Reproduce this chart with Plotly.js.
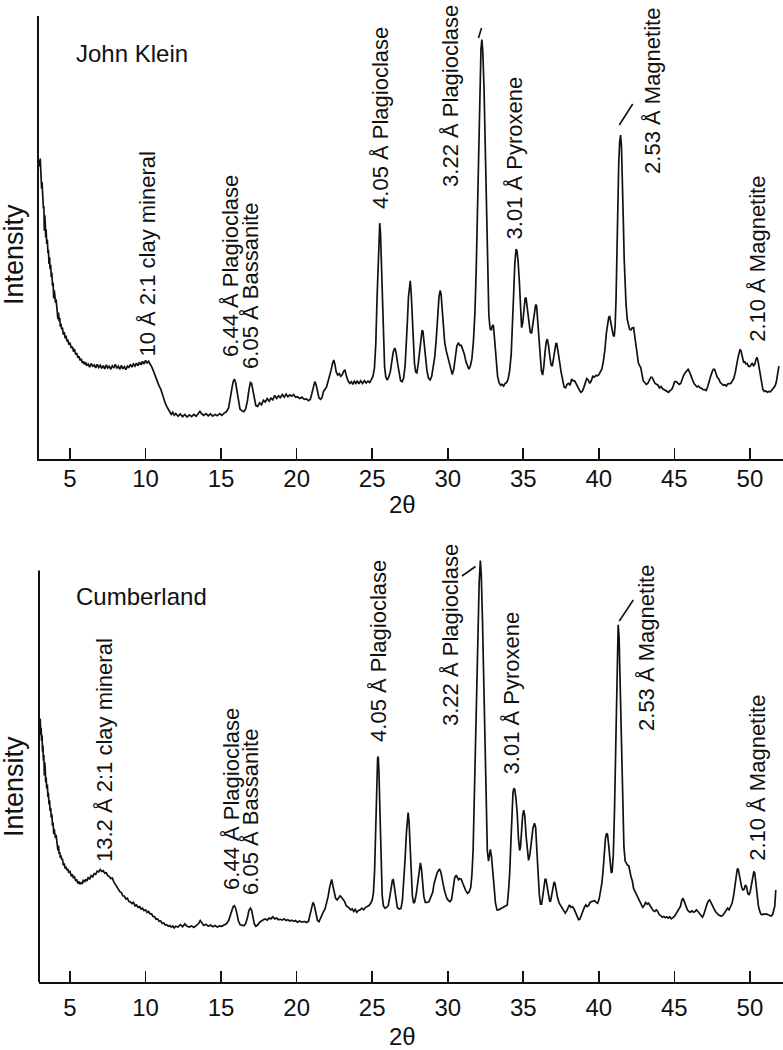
<!DOCTYPE html>
<html>
<head>
<meta charset="utf-8">
<script src="https://cdn.plot.ly/plotly-3.0.1.min.js"></script>
<style>
html,body{margin:0;padding:0;background:#fff;}
#chart{width:783px;height:1050px;}
</style>
</head>
<body>
<div id="chart"></div>
<script>
// ---------------- DATA ----------------
var tickVals = [5, 10, 15, 20, 25, 30, 35, 40, 45, 50];
var tickText = ["5", "10", "15", "20", "25", "30", "35", "40", "45", "50"];

// John Klein: 2θ (degrees) and intensity (arbitrary units)
var jkTheta = [2.97,3.00,3.03,3.06,3.09,3.12,3.15,3.18,3.21,3.24,3.27,3.30,3.33,3.36,3.39,3.42,3.46,3.50,3.54,3.57,3.61,3.65,3.68,3.72,3.76,3.80,3.84,3.88,3.92,3.96,4.00,4.04,4.08,4.12,4.16,4.20,4.24,4.28,4.32,4.36,4.40,4.45,4.50,4.56,4.62,4.68,4.74,4.80,4.86,4.92,5.00,5.08,5.16,5.22,5.30,5.38,5.44,5.52,5.60,5.66,5.74,5.82,5.88,5.96,6.04,6.10,6.20,6.30,6.40,6.50,6.60,6.70,6.80,6.90,7.00,7.10,7.20,7.30,7.40,7.50,7.60,7.70,7.80,7.90,8.00,8.10,8.20,8.30,8.40,8.50,8.60,8.70,8.80,8.90,9.00,9.10,9.20,9.30,9.40,9.50,9.60,9.70,9.80,9.90,10.00,10.10,10.20,10.30,10.40,10.50,10.60,10.70,10.80,10.90,11.00,11.10,11.20,11.30,11.40,11.50,11.60,11.70,11.80,11.90,12.00,12.15,12.30,12.45,12.60,12.75,12.90,13.05,13.20,13.35,13.50,13.60,13.70,13.85,14.00,14.15,14.30,14.45,14.60,14.75,14.90,15.05,15.20,15.35,15.50,15.62,15.72,15.80,15.88,15.96,16.04,16.14,16.25,16.38,16.50,16.62,16.74,16.84,16.94,17.02,17.10,17.20,17.30,17.42,17.55,17.68,17.80,17.92,18.05,18.18,18.30,18.42,18.55,18.68,18.80,18.92,19.05,19.18,19.30,19.42,19.55,19.68,19.80,19.92,20.05,20.20,20.35,20.50,20.65,20.78,20.90,21.00,21.10,21.20,21.28,21.38,21.48,21.58,21.68,21.78,21.88,21.98,22.08,22.18,22.28,22.38,22.46,22.54,22.62,22.72,22.82,22.92,23.02,23.12,23.20,23.30,23.40,23.52,23.62,23.72,23.82,23.92,24.02,24.12,24.24,24.36,24.48,24.60,24.72,24.84,24.95,25.05,25.15,25.24,25.32,25.40,25.46,25.50,25.55,25.61,25.68,25.75,25.82,25.90,25.98,26.08,26.20,26.30,26.40,26.50,26.58,26.68,26.78,26.88,26.98,27.08,27.18,27.26,27.33,27.40,27.47,27.52,27.58,27.65,27.72,27.80,27.88,27.96,28.05,28.14,28.22,28.30,28.36,28.44,28.52,28.62,28.72,28.84,28.94,29.04,29.14,29.24,29.34,29.42,29.50,29.56,29.64,29.72,29.80,29.90,30.00,30.10,30.20,30.30,30.40,30.50,30.60,30.70,30.80,30.90,31.00,31.10,31.20,31.30,31.40,31.50,31.60,31.70,31.80,31.88,31.96,32.04,32.12,32.20,32.26,32.32,32.40,32.48,32.56,32.64,32.72,32.80,32.88,32.95,33.02,33.10,33.20,33.30,33.40,33.50,33.60,33.70,33.80,33.90,34.00,34.10,34.20,34.28,34.36,34.44,34.52,34.58,34.66,34.74,34.82,34.89,34.96,35.04,35.12,35.18,35.26,35.36,35.46,35.55,35.64,35.74,35.82,35.88,35.96,36.04,36.12,36.20,36.28,36.36,36.44,36.52,36.59,36.67,36.76,36.84,36.92,37.00,37.08,37.16,37.22,37.30,37.40,37.50,37.60,37.70,37.80,37.90,38.00,38.10,38.20,38.30,38.40,38.50,38.60,38.70,38.80,38.90,39.00,39.10,39.20,39.30,39.40,39.50,39.60,39.70,39.80,39.90,40.00,40.10,40.20,40.30,40.40,40.50,40.58,40.66,40.72,40.80,40.88,40.96,41.02,41.08,41.14,41.20,41.26,41.32,41.38,41.44,41.50,41.56,41.62,41.68,41.74,41.80,41.88,41.96,42.04,42.12,42.20,42.30,42.38,42.46,42.54,42.62,42.70,42.78,42.86,42.94,43.04,43.14,43.24,43.34,43.44,43.52,43.62,43.72,43.82,43.92,44.02,44.12,44.22,44.32,44.42,44.52,44.62,44.72,44.82,44.92,45.02,45.12,45.22,45.32,45.42,45.52,45.62,45.72,45.82,45.91,46.00,46.10,46.20,46.30,46.40,46.50,46.60,46.70,46.80,46.90,47.00,47.10,47.20,47.30,47.40,47.50,47.58,47.66,47.74,47.84,47.94,48.04,48.14,48.24,48.34,48.44,48.54,48.64,48.74,48.84,48.94,49.04,49.12,49.20,49.28,49.36,49.42,49.50,49.58,49.66,49.74,49.82,49.90,50.00,50.08,50.16,50.24,50.32,50.40,50.47,50.54,50.62,50.70,50.78,50.86,50.96,51.06,51.16,51.26,51.36,51.46,51.56,51.66,51.74,51.80,51.86,51.92];
var jkIntensity = [67.5,66.0,67.8,63.5,65.0,61.0,62.5,58.0,59.5,56.5,57.0,51.5,55.0,53.5,50.0,51.8,48.5,49.5,46.5,47.2,44.0,45.5,42.8,43.8,41.0,42.0,39.0,39.8,36.2,38.0,36.8,35.2,36.0,34.5,34.8,31.5,33.0,31.0,31.8,29.8,30.5,29.2,29.6,28.0,28.6,27.2,27.8,26.5,26.9,25.8,26.2,25.0,25.3,24.4,24.6,23.5,23.9,22.8,23.1,22.2,22.6,21.6,22.0,21.3,21.8,21.0,21.4,20.7,21.5,20.9,21.2,20.5,21.3,20.6,21.1,20.4,21.0,20.3,21.2,20.5,20.9,20.2,21.0,20.6,21.3,20.4,20.9,20.2,21.1,20.3,20.8,20.1,20.9,20.6,21.3,20.7,21.4,20.9,21.6,21.0,21.8,21.2,22.0,21.4,22.2,21.6,22.0,21.5,20.8,20.0,19.0,18.2,17.5,16.4,15.8,14.6,13.8,12.6,11.8,11.0,10.6,10.0,10.5,9.8,10.2,9.6,10.1,9.5,10.0,9.4,9.9,9.5,10.0,9.6,10.3,10.7,10.2,9.8,10.2,9.7,10.1,9.6,10.0,9.7,10.2,9.8,10.3,10.6,11.5,13.5,16.0,17.4,18.0,17.2,15.2,12.8,11.2,10.8,10.6,11.2,13.0,15.5,17.2,17.0,15.4,13.2,12.0,11.8,12.6,12.2,13.2,12.8,13.6,13.0,13.7,13.3,14.3,13.6,14.2,13.8,14.5,13.9,14.6,14.0,14.4,14.1,14.5,13.9,14.0,13.6,13.9,13.4,13.5,13.1,13.4,14.6,16.3,17.4,16.8,14.8,13.7,13.4,13.8,15.2,15.6,16.2,17.5,18.6,20.0,21.6,22.3,21.2,19.6,18.9,19.2,18.6,19.0,19.8,20.0,18.6,17.6,17.0,17.4,16.8,17.5,17.0,17.6,16.9,17.6,17.0,17.6,17.1,17.5,17.2,17.8,18.6,20.5,26.0,36.0,46.0,52.0,53.2,51.0,44.0,34.5,26.0,20.8,18.5,17.8,18.3,19.6,22.0,24.2,25.0,24.0,21.6,19.0,17.6,17.4,18.2,21.0,25.2,31.0,36.5,40.0,40.2,37.5,32.0,26.0,21.5,19.6,19.4,21.5,24.2,27.0,29.0,28.8,26.0,23.4,20.0,18.2,17.8,18.6,20.4,23.0,27.0,32.5,36.5,38.0,37.2,33.5,29.0,26.2,24.4,23.0,21.8,20.0,19.0,20.2,23.0,25.4,26.2,25.6,25.6,24.8,23.6,22.0,20.8,20.2,21.0,22.6,26.5,33.0,42.0,56.0,72.0,85.0,92.5,94.7,92.0,84.0,70.0,54.0,40.0,32.5,29.4,29.0,30.0,30.2,27.0,22.0,18.6,17.2,16.6,16.8,16.4,17.0,17.2,18.0,20.0,23.5,29.0,37.0,44.0,47.3,47.0,44.5,40.0,33.0,29.6,30.6,33.8,36.2,36.4,34.0,30.5,28.6,28.3,30.5,33.5,34.8,34.6,31.0,26.0,22.0,19.8,18.9,20.8,24.0,26.4,27.0,25.6,23.0,21.2,20.9,23.0,25.0,26.0,26.0,24.6,22.0,19.6,17.4,16.2,16.0,16.8,17.0,16.6,18.0,17.6,17.6,16.9,16.0,15.6,15.0,15.2,16.0,17.2,18.1,17.8,17.0,17.6,18.6,18.4,18.8,18.7,19.0,19.6,20.2,22.0,24.5,28.4,30.6,32.0,32.1,30.5,28.6,27.8,27.6,30.0,36.0,48.0,58.4,67.0,71.5,73.1,70.5,64.0,54.0,45.0,38.5,35.0,31.5,29.9,29.2,29.1,29.5,29.6,27.6,24.5,22.6,21.6,21.0,20.6,19.0,17.6,17.2,16.8,17.0,17.8,18.4,18.4,17.6,17.0,16.8,16.6,16.0,16.3,15.8,15.6,15.3,15.1,15.0,15.4,15.6,16.4,17.4,17.4,17.0,16.8,17.0,18.0,18.9,19.4,20.0,20.2,19.6,18.6,17.8,17.0,16.6,16.2,16.4,16.0,15.9,15.6,15.6,15.4,16.2,17.6,18.6,19.6,20.2,20.2,19.4,18.4,18.0,17.2,16.9,16.6,16.7,16.4,16.9,17.0,17.0,17.6,18.2,19.6,21.4,22.6,23.8,24.7,24.2,22.6,21.8,21.9,21.4,21.5,20.9,20.8,21.2,21.6,21.0,21.3,22.4,22.9,22.0,20.2,18.4,16.4,15.6,15.2,15.3,15.0,15.2,15.1,15.6,16.0,16.4,17.2,18.6,20.4,20.9];

// Cumberland: 2θ (degrees) and intensity (arbitrary units)
var cbTheta = [2.97,3.00,3.03,3.06,3.09,3.12,3.15,3.18,3.21,3.24,3.27,3.30,3.33,3.36,3.39,3.42,3.46,3.50,3.54,3.57,3.61,3.65,3.68,3.72,3.76,3.80,3.84,3.88,3.92,3.96,4.00,4.04,4.08,4.12,4.16,4.20,4.24,4.28,4.32,4.36,4.40,4.45,4.50,4.56,4.62,4.68,4.74,4.80,4.86,4.92,5.00,5.08,5.16,5.22,5.30,5.38,5.44,5.52,5.60,5.66,5.74,5.82,5.88,5.96,6.04,6.12,6.20,6.30,6.40,6.50,6.60,6.70,6.80,6.90,7.00,7.10,7.20,7.30,7.40,7.50,7.60,7.70,7.80,7.90,8.00,8.10,8.20,8.30,8.40,8.50,8.60,8.70,8.80,8.90,9.00,9.10,9.20,9.30,9.40,9.50,9.60,9.70,9.80,9.90,10.00,10.10,10.20,10.30,10.40,10.50,10.60,10.70,10.80,10.90,11.00,11.10,11.20,11.30,11.40,11.50,11.60,11.70,11.80,11.90,12.00,12.15,12.30,12.45,12.60,12.75,12.90,13.05,13.20,13.35,13.50,13.62,13.72,13.85,14.00,14.15,14.30,14.45,14.60,14.75,14.90,15.05,15.20,15.35,15.50,15.62,15.72,15.80,15.88,15.96,16.04,16.14,16.25,16.38,16.50,16.62,16.74,16.84,16.94,17.02,17.10,17.20,17.30,17.42,17.55,17.68,17.80,17.92,18.05,18.18,18.30,18.42,18.55,18.68,18.80,18.92,19.05,19.18,19.30,19.42,19.55,19.68,19.80,19.92,20.05,20.20,20.35,20.50,20.65,20.78,20.90,21.00,21.08,21.16,21.26,21.38,21.48,21.58,21.68,21.78,21.88,21.98,22.08,22.18,22.26,22.32,22.40,22.48,22.58,22.68,22.78,22.88,22.98,23.08,23.18,23.28,23.38,23.48,23.58,23.68,23.78,23.88,23.98,24.08,24.20,24.32,24.44,24.56,24.68,24.80,24.90,25.00,25.08,25.16,25.24,25.30,25.36,25.40,25.45,25.51,25.58,25.66,25.74,25.84,25.96,26.06,26.16,26.26,26.34,26.40,26.48,26.56,26.66,26.78,26.90,27.00,27.10,27.18,27.26,27.33,27.38,27.44,27.51,27.58,27.66,27.74,27.82,27.92,28.02,28.12,28.19,28.26,28.34,28.42,28.52,28.64,28.76,28.88,29.00,29.10,29.20,29.30,29.40,29.46,29.54,29.62,29.72,29.82,29.94,30.06,30.16,30.26,30.36,30.46,30.56,30.64,30.72,30.80,30.90,31.00,31.10,31.20,31.32,31.42,31.52,31.60,31.68,31.76,31.84,31.92,32.00,32.08,32.16,32.22,32.30,32.38,32.46,32.54,32.62,32.70,32.76,32.82,32.90,32.98,33.06,33.16,33.26,33.37,33.48,33.60,33.72,33.84,33.94,34.02,34.10,34.18,34.25,34.32,34.38,34.44,34.52,34.60,34.68,34.76,34.82,34.90,34.96,35.03,35.10,35.20,35.28,35.35,35.44,35.54,35.64,35.74,35.82,35.90,35.98,36.06,36.14,36.21,36.28,36.36,36.44,36.50,36.58,36.66,36.74,36.80,36.88,36.96,37.04,37.10,37.18,37.28,37.38,37.48,37.58,37.68,37.78,37.88,37.98,38.06,38.16,38.26,38.36,38.46,38.56,38.66,38.74,38.84,38.94,39.04,39.14,39.22,39.32,39.42,39.52,39.62,39.72,39.82,39.92,40.02,40.10,40.20,40.28,40.36,40.44,40.52,40.58,40.66,40.74,40.82,40.88,40.96,41.04,41.10,41.16,41.22,41.28,41.34,41.40,41.46,41.52,41.58,41.66,41.74,41.82,41.90,41.98,42.06,42.14,42.22,42.30,42.40,42.50,42.60,42.70,42.80,42.90,43.00,43.10,43.20,43.30,43.40,43.50,43.60,43.70,43.80,43.90,44.00,44.10,44.20,44.30,44.40,44.50,44.60,44.70,44.80,44.90,45.00,45.10,45.20,45.30,45.40,45.50,45.58,45.66,45.76,45.86,45.96,46.06,46.16,46.26,46.36,46.46,46.56,46.66,46.76,46.86,46.96,47.06,47.16,47.26,47.34,47.42,47.52,47.62,47.72,47.82,47.92,48.02,48.12,48.22,48.32,48.42,48.52,48.62,48.72,48.82,48.92,49.02,49.10,49.16,49.22,49.30,49.38,49.46,49.54,49.62,49.70,49.78,49.86,49.94,50.02,50.10,50.18,50.26,50.32,50.40,50.48,50.56,50.64,50.72,50.80,50.90,51.00,51.10,51.20,51.30,51.40,51.50,51.58,51.64,51.68,51.71];
var cbIntensity = [64.1,62.4,64.0,60.0,61.8,58.6,60.0,56.0,57.5,53.8,55.2,50.2,53.4,52.0,48.6,49.8,47.0,48.0,45.0,46.0,43.2,44.2,41.6,42.4,40.0,40.8,38.0,38.8,36.0,37.2,36.0,35.0,35.8,34.6,34.4,32.0,33.2,31.2,31.6,30.2,30.8,29.8,30.0,28.4,28.9,27.6,28.1,27.2,27.5,26.6,26.9,25.9,26.2,25.4,25.6,24.6,25.0,24.0,24.5,23.8,24.2,24.0,24.9,24.3,25.0,24.6,25.4,25.1,25.9,25.6,26.4,26.2,27.0,26.8,27.4,26.9,27.1,26.5,26.6,25.9,25.7,25.2,25.3,24.4,23.8,23.2,22.9,22.0,21.8,21.0,20.9,20.2,20.4,19.6,19.5,19.1,19.4,18.6,18.8,18.2,18.4,17.8,18.0,17.4,17.6,17.0,17.2,16.6,16.6,16.0,15.9,15.3,15.4,14.8,14.9,14.3,14.4,13.9,14.0,13.6,13.8,13.4,13.7,13.2,13.6,13.4,14.0,13.5,14.2,13.6,13.4,13.7,13.3,13.8,14.2,15.0,14.4,13.8,14.1,13.6,13.9,13.5,13.8,13.4,13.7,13.6,13.9,14.2,15.0,16.5,18.0,18.4,18.6,18.0,16.8,15.0,14.0,13.8,13.7,14.2,15.6,17.4,18.0,17.5,15.6,14.2,13.6,13.9,14.6,15.0,15.2,15.4,15.1,15.6,15.4,15.9,15.4,15.6,15.2,15.3,15.1,15.4,15.0,15.2,14.9,15.1,14.8,15.0,14.6,14.9,14.6,14.8,14.5,14.8,16.5,18.2,19.4,18.8,17.0,15.0,14.7,15.6,16.6,17.2,17.8,19.0,20.8,23.0,24.6,25.0,23.4,21.6,20.4,20.0,20.6,21.0,20.6,20.0,19.6,18.6,18.4,18.0,17.6,17.8,17.2,17.7,17.0,17.4,17.6,18.0,17.6,18.2,18.4,18.7,19.2,20.0,21.6,27.0,38.0,48.0,54.5,54.8,51.0,42.0,31.0,21.2,18.6,18.0,18.2,18.6,20.6,23.6,24.8,24.9,23.0,20.2,18.2,17.8,17.9,19.8,24.6,30.0,36.0,40.4,41.2,39.0,33.8,26.8,21.0,19.2,19.6,21.5,24.6,27.2,29.0,27.6,24.0,20.8,19.4,19.4,19.6,20.8,21.8,24.0,25.6,26.6,27.2,27.5,26.8,25.6,23.4,21.8,20.4,19.8,19.6,20.2,23.0,25.4,26.0,25.6,24.9,25.2,25.0,24.0,23.0,22.2,21.6,22.0,23.0,26.0,32.0,45.0,60.0,76.0,88.0,97.0,102.4,99.0,88.0,73.0,57.0,41.0,32.0,29.4,30.6,32.3,30.4,27.6,23.6,19.2,17.6,17.6,17.8,18.0,18.2,18.6,18.8,22.0,26.4,34.0,42.0,46.2,47.1,46.8,44.5,41.0,35.0,32.0,33.0,38.0,40.6,41.8,40.4,35.0,31.0,29.6,31.0,34.0,37.4,38.6,37.6,32.0,25.5,21.4,19.0,19.0,20.6,23.0,25.0,25.0,23.2,21.4,19.8,19.6,21.6,23.6,24.4,24.0,22.0,20.4,19.2,18.6,18.2,17.4,16.8,17.4,18.4,18.8,18.2,18.4,17.8,17.0,16.2,15.2,15.3,16.4,17.4,18.2,18.8,18.4,18.6,19.4,19.6,19.8,19.8,19.4,19.2,20.2,21.6,24.0,27.0,31.0,35.0,36.2,35.8,33.0,28.4,26.6,26.8,31.0,42.0,55.0,68.0,80.0,86.8,84.0,75.0,62.0,50.0,40.5,33.0,29.5,28.8,28.4,28.3,26.6,25.5,24.6,22.8,22.0,21.2,20.2,19.5,18.6,18.2,18.6,19.4,19.0,19.2,18.6,17.8,17.4,17.2,17.6,17.2,16.4,16.2,15.8,16.0,15.7,15.9,15.6,15.9,15.4,15.7,16.0,16.6,17.2,17.6,18.4,20.0,20.4,19.6,18.4,17.6,17.2,17.0,17.4,17.0,17.2,17.6,17.2,16.8,16.4,15.8,16.6,18.0,19.0,19.8,20.0,19.4,18.4,17.9,17.2,16.7,16.4,16.2,16.1,16.3,16.9,17.6,18.0,17.6,18.6,19.2,21.0,24.0,26.2,27.4,27.6,26.0,24.0,23.0,22.4,22.6,23.6,23.2,21.6,21.2,22.0,24.0,26.0,26.9,26.6,24.0,20.8,18.6,17.4,16.6,16.4,16.6,16.5,16.6,16.4,16.2,16.1,16.4,17.4,18.4,20.4,22.4,24.0];

// Peak labels: text, 2θ of label column, bottom (pixel) of label
var jkLabels = [
  ["10 Å 2:1 clay mineral", 10.10, 358],
  ["6.44 Å Plagioclase", 15.65, 358],
  ["6.05 Å Bassanite", 16.91, 370],
  ["4.05 Å Plagioclase", 25.58, 210],
  ["3.22 Å Plagioclase", 30.21, 188],
  ["3.01 Å Pyroxene", 34.45, 240],
  ["2.53 Å Magnetite", 43.58, 175],
  ["2.10 Å Magnetite", 50.46, 343]
];
var cbLabels = [
  ["13.2 Å 2:1 clay mineral", 7.25, 863],
  ["6.44 Å Plagioclase", 15.65, 891],
  ["6.05 Å Bassanite", 16.91, 896],
  ["4.05 Å Plagioclase", 25.38, 743],
  ["3.22 Å Plagioclase", 30.15, 727],
  ["3.01 Å Pyroxene", 34.25, 775],
  ["2.53 Å Magnetite", 43.12, 732],
  ["2.10 Å Magnetite", 50.46, 862]
];

// ---------------- LAYOUT ----------------
var W = 783, H = 1050;
var FONT = "Liberation Sans, Arial, Helvetica, sans-serif";
function py(p) { return 1 - p / H; }
function px(p) { return p / W; }

var xLeft = px(39);
var xRange = [2.948, 52.19];

var traces = [
  {x: jkTheta, y: jkIntensity, xaxis: "x", yaxis: "y", type: "scatter", mode: "lines",
   line: {color: "#111", width: 1.7}, hoverinfo: "skip", showlegend: false},
  {x: cbTheta, y: cbIntensity, xaxis: "x2", yaxis: "y2", type: "scatter", mode: "lines",
   line: {color: "#111", width: 1.7}, hoverinfo: "skip", showlegend: false}
];

function xAxis(anchor, standoff) {
  return {
    domain: [xLeft, 1], range: xRange, anchor: anchor,
    showline: true, linecolor: "#111", linewidth: 2,
    ticks: "inside", ticklen: 11, tickwidth: 1.6, tickcolor: "#111",
    tickmode: "array", tickvals: tickVals, ticktext: tickText,
    ticklabelstandoff: standoff,
    tickfont: {family: FONT, size: 24, color: "#111"},
    showgrid: false, zeroline: false, fixedrange: true
  };
}

var annotations = [];
function addLabels(list, xref) {
  list.forEach(function (l) {
    annotations.push({
      text: l[0], x: l[1], xref: xref, y: py(l[2]), yref: "paper",
      xanchor: "center", yanchor: "bottom", textangle: -90, showarrow: false,
      font: {family: FONT, size: 22, color: "#111"}, borderpad: 0
    });
  });
}
addLabels(jkLabels, "x");
addLabels(cbLabels, "x2");

[["John Klein", 53.5], ["Cumberland", 596]].forEach(function (t) {
  annotations.push({text: t[0], x: px(75), y: py(t[1]), xref: "paper", yref: "paper",
    xanchor: "left", yanchor: "middle", showarrow: false, borderpad: 0,
    font: {family: FONT, size: 24, color: "#111"}});
});
[504, 1036].forEach(function (yy) {
  annotations.push({text: "2θ", x: px(402), y: py(yy), xref: "paper", yref: "paper",
    xanchor: "center", yanchor: "middle", showarrow: false, borderpad: 0,
    font: {family: FONT, size: 24, color: "#111"}});
});
[255, 787].forEach(function (yy) {
  annotations.push({text: "Intensity", x: px(14), y: py(yy), xref: "paper", yref: "paper",
    xanchor: "center", yanchor: "middle", textangle: -90, showarrow: false, borderpad: 0,
    font: {family: FONT, size: 27, color: "#111"}});
});

function seg(x0, y0, x1, y1) {
  return {type: "line", xref: "paper", yref: "paper", x0: px(x0), y0: py(y0), x1: px(x1), y1: py(y1),
    line: {color: "#111", width: 1.6}};
}
var shapes = [
  // y-axis line of lower panel (its trace rises slightly above the axis top)
  {type: "line", xref: "paper", yref: "y2", x0: xLeft, x1: xLeft, y0: 0, y1: 100,
   line: {color: "#111", width: 2}},
  // leader lines
  seg(478.5, 38, 481.5, 28),
  seg(619.3, 125, 632.7, 104),
  seg(462, 576, 475.5, 566.5),
  seg(619.3, 621, 633.3, 600)
];

var layout = {
  width: W, height: H,
  margin: {l: 0, r: 0, t: 0, b: 0},
  paper_bgcolor: "#fff", plot_bgcolor: "#fff",
  showlegend: false,
  xaxis: xAxis("y", -3),
  xaxis2: xAxis("y2", 3),
  yaxis: {domain: [py(458.7), py(16)], range: [0, 100], anchor: "x",
    showline: true, linecolor: "#111", linewidth: 2, ticks: "", showticklabels: false,
    showgrid: false, zeroline: false, fixedrange: true},
  yaxis2: {domain: [py(982.3), py(549.9)], range: [0, 105], anchor: "x2",
    showline: false, ticks: "", showticklabels: false,
    showgrid: false, zeroline: false, fixedrange: true},
  annotations: annotations,
  shapes: shapes
};

Plotly.newPlot("chart", traces, layout, {displayModeBar: false, staticPlot: true});
</script>
</body>
</html>
